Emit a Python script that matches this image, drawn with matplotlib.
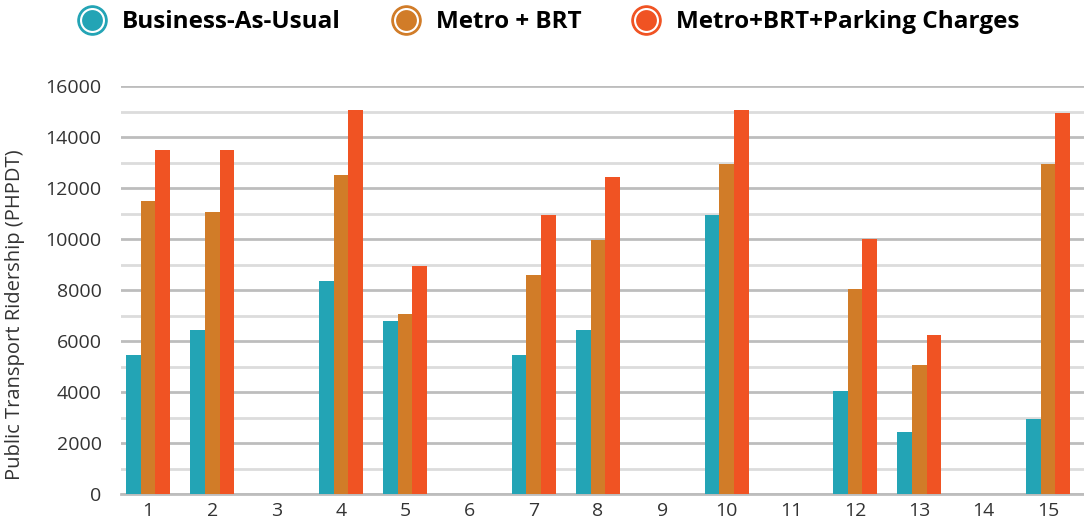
import numpy as np
import matplotlib.pyplot as plt
from matplotlib.lines import Line2D
from matplotlib.legend_handler import HandlerTuple

plt.rcParams['font.family'] = ['Open Sans', 'DejaVu Sans']

categories = [str(i) for i in range(1, 16)]
series_names = ['Business-As-Usual', 'Metro + BRT', 'Metro+BRT+Parking Charges']
bau = [5450, 6450, 0, 8350, 6800, 0, 5450, 6450, 0, 10950, 0, 4050, 2450, 0, 2950]
metro_brt = [11500, 11050, 0, 12500, 7050, 0, 8600, 9950, 0, 12950, 0, 8050, 5050, 0, 12950]
parking = [13500, 13500, 0, 15050, 8950, 0, 10950, 12450, 0, 15050, 0, 10000, 6250, 0, 14950]
colors = ['#23A4B5', '#D17C28', '#F05323']

fig = plt.figure(figsize=(10.84, 5.26), dpi=100)
ax = fig.add_axes([0.1116, 0.0608, 0.8884, 0.7757])

x = np.arange(1, len(categories) + 1)
w = 0.228
for i, (vals, c) in enumerate(zip([bau, metro_brt, parking], colors)):
    ax.bar(x + (i - 1) * w, vals, width=w, color=c, zorder=3, linewidth=0)

ax.set_xlim(0.58, 15.56)
ax.set_ylim(0, 16000)
ax.set_yticks(np.arange(0, 16001, 2000))
ax.set_yticks(np.arange(1000, 16000, 2000), minor=True)
ax.set_xticks(x)
ax.set_xticklabels(categories)
ax.grid(axis='y', which='major', color='#BDBDBD', linewidth=2, zorder=0)
ax.grid(axis='y', which='minor', color='#DCDCDC', linewidth=2, zorder=0)
ax.tick_params(axis='both', which='both', length=0, labelsize=14, labelcolor='#333333')
ax.tick_params(axis='y', pad=14)
ax.tick_params(axis='x', pad=6)
for s in ['top', 'right', 'left']:
    ax.spines[s].set_visible(False)
ax.spines['bottom'].set_color('#BDBDBD')
ax.spines['bottom'].set_linewidth(2)
ax.set_ylabel('Public Transport Ridership (PHPDT)', fontsize=14.5, color='#333333')
ax.yaxis.set_label_coords(-0.1, 0.44)

handles = []
for c in colors:
    outer = Line2D([], [], marker='o', linestyle='none', markersize=21,
                   markerfacecolor=c, markeredgecolor=c)
    ring = Line2D([], [], marker='o', linestyle='none', markersize=16.5,
                  markerfacecolor='none', markeredgecolor='white', markeredgewidth=1.5)
    handles.append((outer, ring))
fig.legend(handles, series_names, handler_map={tuple: HandlerTuple(ndivide=1)},
           loc='center left', bbox_to_anchor=(0.059, 0.958), ncol=3, frameon=False,
           prop={'weight': 'bold', 'size': 17.5}, handlelength=1.3, handletextpad=0.6,
           columnspacing=2.0, borderpad=0)

fig.savefig('out.png', dpi=100)
